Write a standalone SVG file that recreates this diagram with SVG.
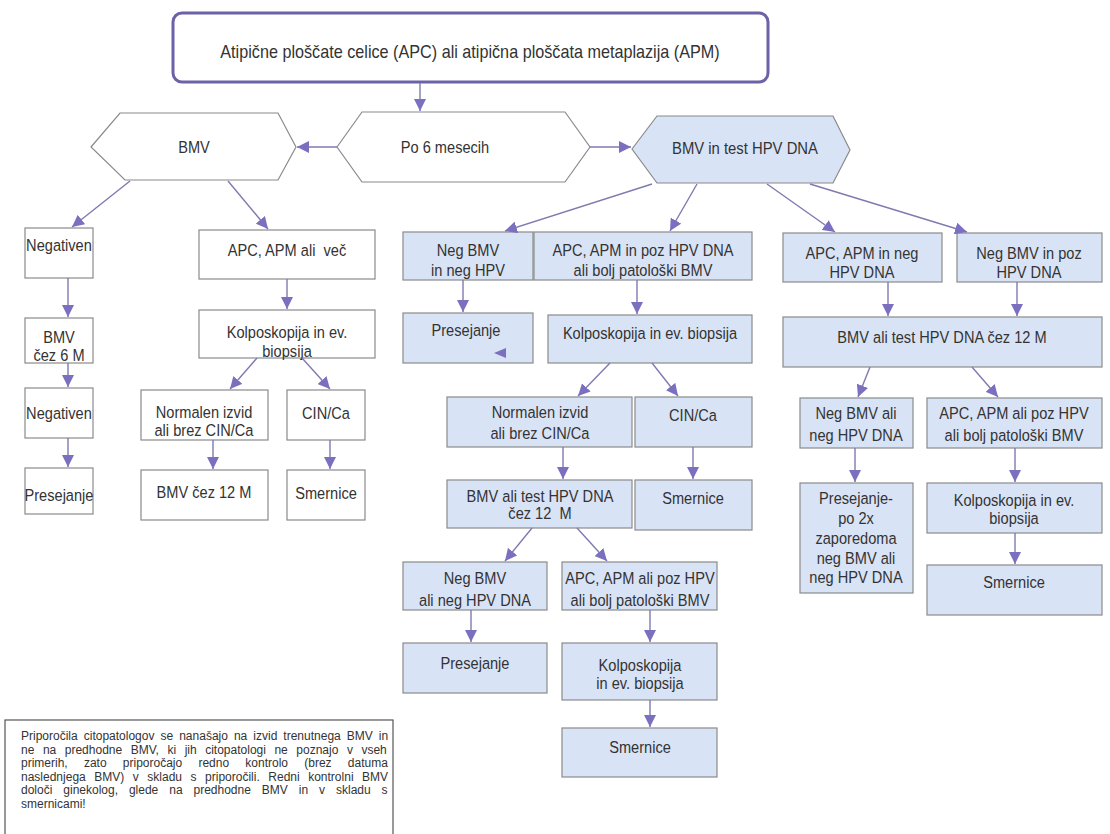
<svg xmlns="http://www.w3.org/2000/svg" width="1110" height="834" viewBox="0 0 1110 834">
<style>
.t{font-family:"Liberation Sans",Arial,sans-serif;fill:#333;transform-box:fill-box;transform-origin:center;transform:scaleY(1.12);font-size:14.6px;text-anchor:middle}
.n{font-family:"Liberation Sans",Arial,sans-serif;fill:#333;font-size:12px}
.w{fill:#fff;stroke:#8a8a8a;stroke-width:1.2}
.b{fill:#d9e3f6;stroke:#8a8a8a;stroke-width:1.2}
.c line{stroke:#7f7ab0;stroke-width:1.4;marker-end:url(#ah)}
</style>
<defs>
<marker id="ah" markerUnits="userSpaceOnUse" markerWidth="13" markerHeight="12" refX="12" refY="6" orient="auto">
<path d="M0,0 L12,6 L0,12 z" fill="#7b70c0"/>
</marker>
</defs>
<rect width="1110" height="834" fill="#fff"/>

<g id="top">
<rect x="173" y="13" width="595" height="69" rx="9" fill="#fff" stroke="#6b62a8" stroke-width="3"/>
<text class="t" x="470" y="57" style="font-size:16.2px">Atipične ploščate celice (APC) ali atipična ploščata metaplazija (APM)</text>
</g>
<g id="hex-bmv">
<polygon points="91,147 120,113 278,113 296,147 278,180 125,180" fill="#fff" stroke="#8a8a8a" stroke-width="1.2"/>
<text class="t" x="194" y="152">BMV</text>
</g>
<g id="hex-po6">
<polygon points="337,147 362,112 565,112 590,147 565,182 362,182" fill="#fff" stroke="#8a8a8a" stroke-width="1.2"/>
<text class="t" x="445" y="152">Po 6 mesecih</text>
</g>
<g id="hex-hpv">
<polygon points="632,149 657,116 833,116 850,150 833,183 657,183" class="b"/>
<text class="t" x="745" y="153" textLength="146" lengthAdjust="spacingAndGlyphs">BMV in test HPV DNA</text>
</g>

<g id="l-neg1"><rect class="w" x="25" y="228" width="68" height="50"/><text class="t" x="59" y="250">Negativen</text></g>
<g id="l-bmv6"><rect class="w" x="25" y="318" width="68" height="45"/><text class="t" x="59" y="342">BMV</text><text class="t" x="59" y="360">čez 6 M</text></g>
<g id="l-neg2"><rect class="w" x="25" y="388" width="68" height="50"/><text class="t" x="59" y="418">Negativen</text></g>
<g id="l-pres"><rect class="w" x="25" y="468" width="68" height="46"/><text class="t" x="59" y="500">Presejanje</text></g>
<g id="l-apc"><rect class="w" x="199" y="230" width="176" height="49"/><text class="t" x="287" y="255">APC, APM ali&#160; več</text></g>
<g id="l-kolp"><rect class="w" x="199" y="310" width="176" height="48"/><text class="t" x="287" y="337">Kolposkopija in ev.</text><text class="t" x="287" y="356">biopsija</text></g>
<g id="l-norm"><rect class="w" x="141" y="390" width="127" height="50"/><text class="t" x="204" y="417">Normalen izvid</text><text class="t" x="204" y="435">ali brez CIN/Ca</text></g>
<g id="l-cin"><rect class="w" x="287" y="390" width="78" height="50"/><text class="t" x="326" y="418">CIN/Ca</text></g>
<g id="l-bmv12"><rect class="w" x="141" y="470" width="127" height="50"/><text class="t" x="204" y="497">BMV čez 12 M</text></g>
<g id="l-smer"><rect class="w" x="287" y="470" width="78" height="50"/><text class="t" x="326" y="498">Smernice</text></g>

<g id="m-neg"><rect class="b" x="403" y="232" width="130" height="48"/><text class="t" x="468" y="255">Neg BMV</text><text class="t" x="468" y="275">in neg HPV</text></g>
<g id="m-apc"><rect class="b" x="534" y="232" width="218" height="48"/><text class="t" x="643" y="255">APC, APM in poz HPV DNA</text><text class="t" x="643" y="275">ali bolj patološki BMV</text></g>
<g id="m-pres"><rect class="b" x="403" y="313" width="130" height="50"/><text class="t" x="466" y="335">Presejanje</text><polygon points="494,353 506,348 506,358" fill="#7b70c0"/></g>
<g id="m-kolp"><rect class="b" x="548" y="315" width="204" height="48"/><text class="t" x="650" y="338">Kolposkopija in ev. biopsija</text></g>
<g id="m-norm"><rect class="b" x="447" y="397" width="185" height="50"/><text class="t" x="540" y="417">Normalen izvid</text><text class="t" x="540" y="438">ali brez CIN/Ca</text></g>
<g id="m-cin"><rect class="b" x="635" y="397" width="117" height="50"/><text class="t" x="693" y="420">CIN/Ca</text></g>
<g id="m-bmv12"><rect class="b" x="447" y="480" width="185" height="48"/><text class="t" x="540" y="501">BMV ali test HPV DNA</text><text class="t" x="540" y="518">čez 12&#160; M</text></g>
<g id="m-smer"><rect class="b" x="635" y="480" width="117" height="50"/><text class="t" x="693" y="503">Smernice</text></g>
<g id="m-neg2"><rect class="b" x="403" y="562" width="144" height="48"/><text class="t" x="475" y="583">Neg BMV</text><text class="t" x="475" y="605">ali neg HPV DNA</text></g>
<g id="m-apc2"><rect class="b" x="562" y="562" width="155" height="48"/><text class="t" x="640" y="583">APC, APM ali poz HPV</text><text class="t" x="640" y="605">ali bolj patološki BMV</text></g>
<g id="m-pres2"><rect class="b" x="403" y="643" width="144" height="50"/><text class="t" x="475" y="668">Presejanje</text></g>
<g id="m-kolp2"><rect class="b" x="562" y="643" width="155" height="57"/><text class="t" x="640" y="670">Kolposkopija</text><text class="t" x="640" y="688">in ev. biopsija</text></g>
<g id="m-smer2"><rect class="b" x="562" y="728" width="155" height="49"/><text class="t" x="640" y="752">Smernice</text></g>

<g id="r-apc"><rect class="b" x="783" y="233" width="159" height="49"/><text class="t" x="862" y="258">APC, APM in neg</text><text class="t" x="862" y="277">HPV DNA</text></g>
<g id="r-neg"><rect class="b" x="957" y="233" width="145" height="49"/><text class="t" x="1029" y="258">Neg BMV in poz</text><text class="t" x="1029" y="277">HPV DNA</text></g>
<g id="r-bmv12"><rect class="b" x="783" y="317" width="319" height="50"/><text class="t" x="942" y="342">BMV ali test HPV DNA čez 12 M</text></g>
<g id="r-neg2"><rect class="b" x="800" y="398" width="113" height="50"/><text class="t" x="856" y="418">Neg BMV ali</text><text class="t" x="856" y="440">neg HPV DNA</text></g>
<g id="r-apc2"><rect class="b" x="927" y="398" width="175" height="50"/><text class="t" x="1014" y="418">APC, APM ali poz HPV</text><text class="t" x="1014" y="440">ali bolj patološki BMV</text></g>
<g id="r-pres"><rect class="b" x="800" y="483" width="113" height="110"/><text class="t" x="856" y="503">Presejanje-</text><text class="t" x="856" y="523">po 2x</text><text class="t" x="856" y="543">zaporedoma</text><text class="t" x="856" y="563">neg BMV ali</text><text class="t" x="856" y="582">neg HPV DNA</text></g>
<g id="r-kolp"><rect class="b" x="927" y="483" width="175" height="50"/><text class="t" x="1014" y="505">Kolposkopija in ev.</text><text class="t" x="1014" y="523">biopsija</text></g>
<g id="r-smer"><rect class="b" x="927" y="565" width="175" height="50"/><text class="t" x="1014" y="587">Smernice</text></g>

<g id="note">
<rect x="5" y="720" width="388" height="125" fill="#fff" stroke="#555" stroke-width="1.2"/>
<text class="n" x="21" y="740" style="word-spacing:2.7px">Priporočila citopatologov se nanašajo na izvid trenutnega BMV in</text>
<text class="n" x="21" y="753.5" style="word-spacing:5.2px">ne na predhodne BMV, ki jih citopatologi ne poznajo v vseh</text>
<text class="n" x="21" y="767" style="word-spacing:12.9px">primerih, zato priporočajo redno kontrolo (brez datuma</text>
<text class="n" x="21" y="780.5" style="word-spacing:5.2px">naslednjega BMV) v skladu s priporočili. Redni kontrolni BMV</text>
<text class="n" x="21" y="794" style="word-spacing:7.6px">določi ginekolog, glede na predhodne BMV in v skladu s</text>
<text class="n" x="21" y="807.5">smernicami!</text>
</g>

<g id="connectors" class="c">
<line x1="420" y1="83" x2="420" y2="111"/>
<line x1="337" y1="147" x2="297" y2="147"/>
<line x1="590" y1="147" x2="631" y2="147"/>
<line x1="130" y1="181" x2="72" y2="227"/>
<line x1="228" y1="181" x2="268" y2="229"/>
<line x1="68" y1="278" x2="68" y2="317"/>
<line x1="68" y1="363" x2="68" y2="387"/>
<line x1="68" y1="438" x2="68" y2="467"/>
<line x1="287" y1="279" x2="287" y2="309"/>
<line x1="257" y1="358" x2="230" y2="389"/>
<line x1="302" y1="358" x2="330" y2="389"/>
<line x1="213" y1="440" x2="213" y2="469"/>
<line x1="330" y1="440" x2="330" y2="469"/>
<line x1="652" y1="184" x2="505" y2="231"/>
<line x1="697" y1="184" x2="670" y2="231"/>
<line x1="767" y1="184" x2="835" y2="232"/>
<line x1="810" y1="184" x2="967" y2="232"/>
<line x1="463" y1="280" x2="463" y2="312"/>
<line x1="637" y1="280" x2="637" y2="314"/>
<line x1="610" y1="363" x2="578" y2="396"/>
<line x1="652" y1="363" x2="678" y2="396"/>
<line x1="563" y1="447" x2="563" y2="479"/>
<line x1="693" y1="447" x2="693" y2="479"/>
<line x1="532" y1="528" x2="505" y2="561"/>
<line x1="577" y1="528" x2="607" y2="561"/>
<line x1="471" y1="610" x2="471" y2="642"/>
<line x1="650" y1="610" x2="650" y2="642"/>
<line x1="650" y1="700" x2="650" y2="727"/>
<line x1="888" y1="282" x2="888" y2="316"/>
<line x1="1017" y1="282" x2="1017" y2="316"/>
<line x1="870" y1="367" x2="858" y2="397"/>
<line x1="972" y1="367" x2="998" y2="397"/>
<line x1="855" y1="448" x2="855" y2="482"/>
<line x1="1015" y1="448" x2="1015" y2="482"/>
<line x1="1015" y1="533" x2="1015" y2="564"/>
</g>
</svg>
